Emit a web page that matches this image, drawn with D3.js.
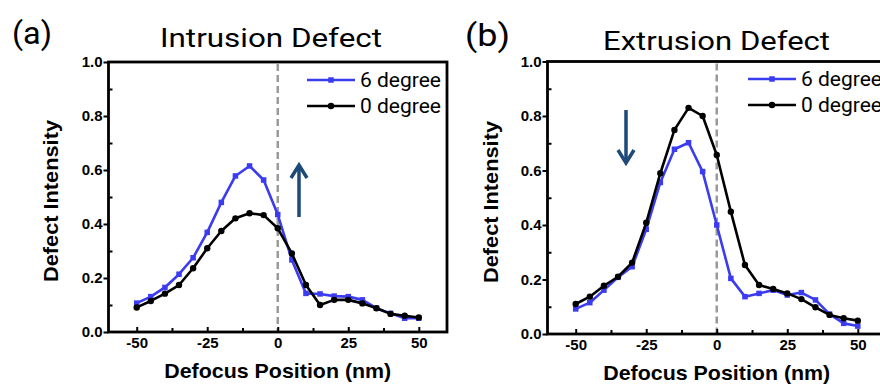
<!DOCTYPE html>
<html><head><meta charset="utf-8">
<script src="https://cdn.jsdelivr.net/npm/d3@7/dist/d3.min.js"></script>
<style>body{margin:0;background:#fff;} svg{display:block;}</style>
</head><body><svg id="c" width="880" height="386"></svg>
<script>
// ---- data ----
const positions = [-50,-45,-40,-35,-30,-25,-20,-15,-10,-5,0,5,10,15,20,25,30,35,40,45,50];
const intrusion6 = [0.107,0.131,0.165,0.214,0.275,0.369,0.480,0.578,0.615,0.563,0.435,0.267,0.143,0.141,0.133,0.131,0.119,0.088,0.069,0.051,0.051];
const intrusion0 = [0.091,0.115,0.142,0.174,0.236,0.310,0.374,0.421,0.440,0.433,0.384,0.291,0.174,0.100,0.119,0.119,0.106,0.088,0.067,0.060,0.054];
const extrusion6 = [0.092,0.115,0.161,0.208,0.247,0.384,0.556,0.678,0.702,0.596,0.400,0.204,0.137,0.149,0.161,0.143,0.152,0.125,0.073,0.039,0.029];
const extrusion0 = [0.110,0.137,0.177,0.210,0.262,0.408,0.590,0.749,0.830,0.800,0.657,0.449,0.253,0.180,0.165,0.149,0.128,0.098,0.070,0.058,0.049];
const xTickLabels = [-50,-25,0,25,50];
const xMinorTicks = [-37.5,-12.5,12.5,37.5];
const yTickLabels = [0.0,0.2,0.4,0.6,0.8,1.0];
const yMinorTicks = [0.1,0.3,0.5,0.7,0.9];
const seriesNames = ["6 degree","0 degree"];
const panelLetters = ["(a)","(b)"];
const panelTitles = ["Intrusion Defect","Extrusion Defect"];
const xTitle = "Defocus Position (nm)";
const yTitle = "Defect Intensity";

// ---- style/layout ----
const BLUE = "#3b3bf0", BLACK = "#000", ARROW = "#1d4a78";
const AX_FONT = "'Liberation Sans', Arial, sans-serif";
const TXT_FONT = "Roboto, 'Open Sans', sans-serif";
const panels = [
  {x0:108.5, x1:447, y0:332, y1:62, vals:[intrusion6,intrusion0], letter:{x:12,y:44,len:40}, title:{x:160,y:47,len:222},
   ytitle:{x:58,y:201}, xtitleY:378, legX:307, legY:[80,106], arrow:{x:299, from:217, to:165}},
  {x0:547.5, x1:886, y0:334, y1:61.5, vals:[extrusion6,extrusion0], letter:{x:465,y:46,len:45}, title:{x:603,y:50,len:227},
   ytitle:{x:498,y:202}, xtitleY:380, legX:748, legY:[79,105], arrow:{x:626, from:110, to:163}}
];

const svg = d3.select("#c");

panels.forEach((p, pi) => {
  const g = svg.append("g");
  const x = d3.scaleLinear().domain([-60,60]).range([p.x0,p.x1]);
  const y = d3.scaleLinear().domain([0,1]).range([p.y0,p.y1]);

  // panel letter & title
  g.append("text").attr("x",p.letter.x).attr("y",p.letter.y).attr("font-family",TXT_FONT)
    .attr("font-size",32).attr("textLength",p.letter.len).attr("lengthAdjust","spacingAndGlyphs").text(panelLetters[pi]);
  g.append("text").attr("x",p.title.x).attr("y",p.title.y).attr("font-family",TXT_FONT)
    .attr("font-size",26).attr("textLength",p.title.len).attr("lengthAdjust","spacingAndGlyphs").text(panelTitles[pi]);

  // dashed zero line
  g.append("line").attr("x1",x(0)).attr("x2",x(0)).attr("y1",y(1)+2).attr("y2",y(0))
    .attr("stroke","#9a9a9a").attr("stroke-width",2.5).attr("stroke-dasharray","7,4");

  // axes
  const styleAxis = sel => {
    sel.select(".domain").remove();
    sel.selectAll("line").attr("stroke","#000").attr("stroke-width",2);
    sel.selectAll("text").attr("font-family",AX_FONT).attr("font-weight","bold").attr("font-size",15).attr("fill","#000");
  };
  g.append("g").attr("transform",`translate(0,${y(0)})`)
    .call(d3.axisBottom(x).tickValues(xTickLabels).tickSizeInner(-5).tickSizeOuter(0).tickPadding(5).tickFormat(d=>d))
    .call(styleAxis);
  g.append("g").attr("transform",`translate(0,${y(0)})`)
    .call(d3.axisBottom(x).tickValues(xMinorTicks).tickSizeInner(-4).tickSizeOuter(0).tickFormat(""))
    .call(styleAxis);
  g.append("g").attr("transform",`translate(${x(-60)},0)`)
    .call(d3.axisLeft(y).tickValues(yTickLabels).tickSizeInner(5).tickSizeOuter(0).tickPadding(1).tickFormat(d3.format(".1f")))
    .call(styleAxis);
  g.append("g").attr("transform",`translate(${x(-60)},0)`)
    .call(d3.axisLeft(y).tickValues(yMinorTicks).tickSizeInner(-4).tickSizeOuter(0).tickFormat(""))
    .call(styleAxis);

  // frame
  g.append("rect").attr("x",x(-60)).attr("y",y(1)).attr("width",x(60)-x(-60)).attr("height",y(0)-y(1))
    .attr("fill","none").attr("stroke","#000").attr("stroke-width",2.8);

  // axis titles
  g.append("text").attr("transform",`translate(${p.ytitle.x},${p.ytitle.y}) rotate(-90)`)
    .attr("text-anchor","middle").attr("font-family",AX_FONT).attr("font-weight","bold").attr("font-size",20)
    .attr("textLength",162).attr("lengthAdjust","spacingAndGlyphs").text(yTitle);
  g.append("text").attr("x",x(0)).attr("y",p.xtitleY).attr("text-anchor","middle")
    .attr("font-family",AX_FONT).attr("font-weight","bold").attr("font-size",21)
    .attr("textLength",227).attr("lengthAdjust","spacingAndGlyphs").text(xTitle);

  // series
  const line = d3.line().x((d,i)=>x(positions[i])).y(d=>y(d));
  const colors = [BLUE, BLACK];
  [0,1].forEach(si => {
    const vals = p.vals[si];
    g.append("path").datum(vals).attr("d",line).attr("fill","none")
      .attr("stroke",colors[si]).attr("stroke-width",2.6).attr("stroke-linejoin","round");
    if (si===0) {
      g.selectAll(null).data(vals).enter().append("rect")
        .attr("x",(d,i)=>x(positions[i])-2.75).attr("y",d=>y(d)-2.75).attr("width",5.5).attr("height",5.5).attr("fill",BLUE);
    } else {
      g.selectAll(null).data(vals).enter().append("circle")
        .attr("cx",(d,i)=>x(positions[i])).attr("cy",d=>y(d)).attr("r",3.2).attr("fill",BLACK);
    }
  });

  // legend
  seriesNames.forEach((name, si) => {
    const ly = p.legY[si];
    g.append("line").attr("x1",p.legX).attr("x2",p.legX+48).attr("y1",ly).attr("y2",ly)
      .attr("stroke",colors[si]).attr("stroke-width",2.6);
    if (si===0) g.append("rect").attr("x",p.legX+24-2.75).attr("y",ly-2.75).attr("width",5.5).attr("height",5.5).attr("fill",BLUE);
    else g.append("circle").attr("cx",p.legX+24).attr("cy",ly).attr("r",3.2).attr("fill",BLACK);
    g.append("text").attr("x",p.legX+53).attr("y",ly+7).attr("font-family",TXT_FONT).attr("font-size",20)
      .attr("textLength",81).attr("lengthAdjust","spacingAndGlyphs").text(name);
  });

  // arrow
  const a = p.arrow, dir = a.to < a.from ? 1 : -1;
  g.append("line").attr("x1",a.x).attr("x2",a.x).attr("y1",a.from).attr("y2",a.to+dir*1.5)
    .attr("stroke",ARROW).attr("stroke-width",3.5);
  g.append("path").attr("d",`M${a.x-8},${a.to+dir*13} L${a.x},${a.to} L${a.x+8},${a.to+dir*13}`)
    .attr("fill","none").attr("stroke",ARROW).attr("stroke-width",3.5).attr("stroke-linejoin","miter");
});
</script></body></html>
